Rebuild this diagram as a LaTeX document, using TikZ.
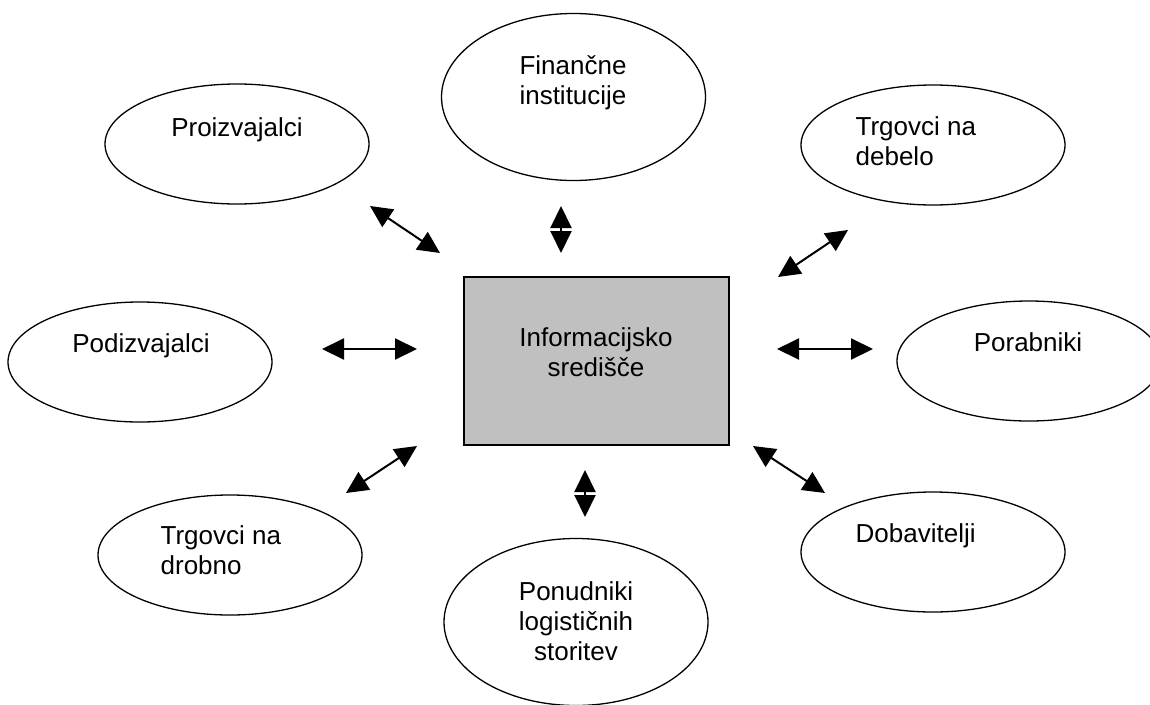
\documentclass[tikz,border=0pt]{standalone}
\usepackage{fontspec}
\setmainfont{Liberation Sans}
\usetikzlibrary{shapes.geometric,arrows.meta}

\begin{document}
\begin{tikzpicture}[x=1pt, y=-1pt, line width=1.3pt,
  oval/.style={draw, ellipse, minimum width=264pt, minimum height=120pt, inner sep=0pt},
  tall/.style={oval, minimum height=167pt},
  lbl/.style={inner sep=0pt, font=\fontsize{26}{30}\selectfont},
  link/.style={line width=2pt, arrows={Triangle[length=22pt,width=21pt]-Triangle[length=22pt,width=21pt]}}]

\useasboundingbox (0,0) rectangle (1150,704);

% centre
\node[draw, fill={rgb,255:red,192;green,192;blue,192}, minimum width=265pt, minimum height=168pt, inner sep=0pt] (center) at (596.5,361) {};
\node[lbl, anchor=north, align=center] (centerT) at (596,327) {Informacijsko\\središče};

% ellipses
\node[oval] (proiz) at (237,144) {};
\node[lbl, anchor=north] (proizT) at (237,117) {Proizvajalci};

\node[tall] (fin) at (573.5,97) {};
\node[lbl, anchor=north, align=center] (finT) at (573,55) {Finančne\\institucije};

\node[oval] (debelo) at (933,145) {};
\node[lbl, anchor=north west, align=left] (debeloT) at (855,116) {Trgovci na\\debelo};

\node[oval] (podiz) at (140,362) {};
\node[lbl, anchor=north] (podizT) at (141,333) {Podizvajalci};

\node[oval] (porab) at (1029,361) {};
\node[lbl, anchor=north] (porabT) at (1028,332) {Porabniki};

\node[oval] (drobno) at (230,555) {};
\node[lbl, anchor=north west, align=left] (drobnoT) at (160,525) {Trgovci na\\drobno};

\node[tall] (logist) at (576,622) {};
\node[lbl, anchor=north, align=center] (logistT) at (576,581) {Ponudniki\\logističnih\\storitev};

\node[oval] (dobav) at (933,552) {};
\node[lbl, anchor=north west, align=left] (dobavT) at (855,523) {Dobavitelji};

% arrow ends
\coordinate (a1) at (370,206);  \coordinate (b1) at (440,253);
\coordinate (a2) at (561,206);  \coordinate (b2) at (561,253);
\coordinate (a3) at (848,230);  \coordinate (b3) at (778,277);
\coordinate (a4) at (322,349);  \coordinate (b4) at (417,349);
\coordinate (a5) at (777,349);  \coordinate (b5) at (873,349);
\coordinate (a6) at (346,493);  \coordinate (b6) at (417,446);
\coordinate (a7) at (585,470);  \coordinate (b7) at (585,517);
\coordinate (a8) at (753,446);  \coordinate (b8) at (825,493);

\foreach \i in {1,...,8}
  \draw[link] (a\i) -- (b\i);

\end{tikzpicture}
\end{document}
